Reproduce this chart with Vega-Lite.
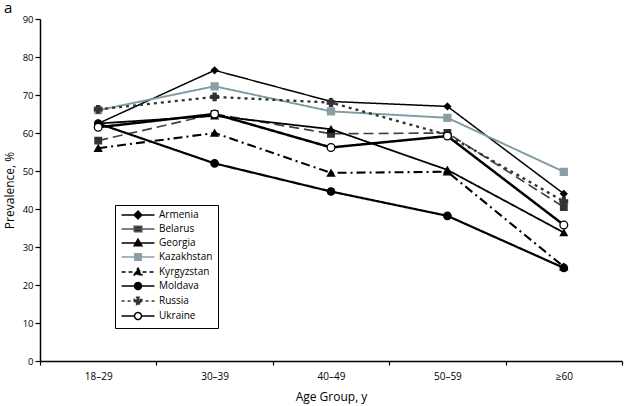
{
  "$schema": "https://vega.github.io/schema/vega-lite/v6.json",
  "width": 582,
  "height": 342,
  "autosize": "none",
  "padding": {"left": 40, "top": 19, "right": 18, "bottom": 45},
  "background": "white",
  "title": {"text": "a", "anchor": "start", "frame": "group", "dx": -36, "dy": 3, "offset": 1, "fontSize": 15, "fontWeight": "normal", "font": "Open Sans", "color": "black"},
  "config": {
    "font": "Open Sans",
    "view": {"stroke": null},
    "axis": {"grid": false, "domainColor": "black", "tickColor": "black", "labelColor": "black", "titleColor": "black", "titleFontWeight": "normal", "labelFont": "Open Sans", "titleFont": "Open Sans"}
  },
  "data": {"values": [
    {"country": "Armenia", "age": "18–29", "value": 62.5},
    {"country": "Armenia", "age": "30–39", "value": 76.5},
    {"country": "Armenia", "age": "40–49", "value": 68.3},
    {"country": "Armenia", "age": "50–59", "value": 67.0},
    {"country": "Armenia", "age": "≥60", "value": 44.0},
    {"country": "Belarus", "age": "18–29", "value": 58.0},
    {"country": "Belarus", "age": "30–39", "value": 65.0},
    {"country": "Belarus", "age": "40–49", "value": 59.8},
    {"country": "Belarus", "age": "50–59", "value": 60.0},
    {"country": "Belarus", "age": "≥60", "value": 40.5},
    {"country": "Georgia", "age": "18–29", "value": 62.5},
    {"country": "Georgia", "age": "30–39", "value": 64.5},
    {"country": "Georgia", "age": "40–49", "value": 61.0},
    {"country": "Georgia", "age": "50–59", "value": 50.3},
    {"country": "Georgia", "age": "≥60", "value": 33.8},
    {"country": "Kazakhstan", "age": "18–29", "value": 66.0},
    {"country": "Kazakhstan", "age": "30–39", "value": 72.3},
    {"country": "Kazakhstan", "age": "40–49", "value": 65.7},
    {"country": "Kazakhstan", "age": "50–59", "value": 64.0},
    {"country": "Kazakhstan", "age": "≥60", "value": 49.8},
    {"country": "Kyrgyzstan", "age": "18–29", "value": 56.0},
    {"country": "Kyrgyzstan", "age": "30–39", "value": 60.0},
    {"country": "Kyrgyzstan", "age": "40–49", "value": 49.5},
    {"country": "Kyrgyzstan", "age": "50–59", "value": 49.8},
    {"country": "Kyrgyzstan", "age": "≥60", "value": 24.8},
    {"country": "Moldava", "age": "18–29", "value": 62.5},
    {"country": "Moldava", "age": "30–39", "value": 52.0},
    {"country": "Moldava", "age": "40–49", "value": 44.6},
    {"country": "Moldava", "age": "50–59", "value": 38.2},
    {"country": "Moldava", "age": "≥60", "value": 24.5},
    {"country": "Russia", "age": "18–29", "value": 66.2},
    {"country": "Russia", "age": "30–39", "value": 69.5},
    {"country": "Russia", "age": "40–49", "value": 68.0},
    {"country": "Russia", "age": "50–59", "value": 59.5},
    {"country": "Russia", "age": "≥60", "value": 42.0},
    {"country": "Ukraine", "age": "18–29", "value": 61.5},
    {"country": "Ukraine", "age": "30–39", "value": 65.0},
    {"country": "Ukraine", "age": "40–49", "value": 56.2},
    {"country": "Ukraine", "age": "50–59", "value": 59.2},
    {"country": "Ukraine", "age": "≥60", "value": 35.8}
  ]},
  "encoding": {
    "x": {"field": "age", "type": "ordinal", "sort": ["18–29", "30–39", "40–49", "50–59", "≥60"],
      "scale": {"type": "band", "paddingInner": 0, "paddingOuter": 0},
      "axis": {"title": "Age Group, y", "labelAngle": 0, "tickBand": "extent", "tickSize": 4, "labelFontSize": 10, "labelPadding": 6, "titleFontSize": 12, "titlePadding": 10, "domainWidth": 1.5, "tickWidth": 1.2}},
    "y": {"field": "value", "type": "quantitative",
      "scale": {"domain": [0, 90], "nice": false},
      "axis": {"title": "Prevalence, %", "values": [0, 10, 20, 30, 40, 50, 60, 70, 80, 90], "tickSize": 5, "labelFontSize": 9.5, "labelPadding": 2, "titleFontSize": 12, "titlePadding": 6, "domainWidth": 1.5, "tickWidth": 1.2}}
  },
  "resolve": {"scale": {"shape": "independent", "fill": "independent", "stroke": "independent", "strokeDash": "independent", "size": "independent"}},
  "layer": [
    {
      "mark": {"type": "line"},
      "encoding": {
        "color": {"field": "country", "type": "nominal",
          "scale": {"domain": ["Armenia", "Belarus", "Georgia", "Kazakhstan", "Kyrgyzstan", "Moldava", "Russia", "Ukraine"],
            "range": ["#000000", "#404040", "#000000", "#7f9ca4", "#000000", "#000000", "#333333", "#000000"]},
          "legend": null},
        "strokeDash": {"field": "country", "type": "nominal",
          "scale": {"domain": ["Armenia", "Belarus", "Georgia", "Kazakhstan", "Kyrgyzstan", "Moldava", "Russia", "Ukraine"],
            "range": [[1, 0], [10, 5], [1, 0], [1, 0], [9, 4, 2, 4], [1, 0], [3, 4], [1, 0]]},
          "legend": null},
        "strokeWidth": {"field": "country", "type": "nominal",
          "scale": {"domain": ["Armenia", "Belarus", "Georgia", "Kazakhstan", "Kyrgyzstan", "Moldava", "Russia", "Ukraine"],
            "range": [1.5, 2.5, 1.5, 1.5, 1.8, 1.5, 2, 1.5]},
          "legend": null}
      }
    },
    {
      "mark": {"type": "point", "opacity": 1, "strokeWidth": 1.3},
      "encoding": {
        "shape": {"field": "country", "type": "nominal",
          "scale": {"domain": ["Armenia", "Belarus", "Georgia", "Kazakhstan", "Kyrgyzstan", "Moldava", "Russia", "Ukraine"],
            "range": ["diamond", "square", "triangle-up", "square", "triangle-up", "circle", "cross", "circle"]},
          "legend": null},
        "fill": {"field": "country", "type": "nominal",
          "scale": {"domain": ["Armenia", "Belarus", "Georgia", "Kazakhstan", "Kyrgyzstan", "Moldava", "Russia", "Ukraine"],
            "range": ["#000000", "#333333", "#000000", "#8a9ea4", "#000000", "#000000", "#333333", "#ffffff"]},
          "legend": null},
        "stroke": {"field": "country", "type": "nominal",
          "scale": {"domain": ["Armenia", "Belarus", "Georgia", "Kazakhstan", "Kyrgyzstan", "Moldava", "Russia", "Ukraine"],
            "range": ["#000000", "#333333", "#000000", "#8a9ea4", "#000000", "#000000", "#333333", "#000000"]},
          "legend": null},
        "size": {"field": "country", "type": "nominal",
          "scale": {"domain": ["Armenia", "Belarus", "Georgia", "Kazakhstan", "Kyrgyzstan", "Moldava", "Russia", "Ukraine"],
            "range": [40, 60, 45, 50, 45, 45, 55, 40]},
          "legend": null}
      }
    },
    {
      "mark": {"type": "point", "opacity": 0, "size": 49, "strokeWidth": 1.5},
      "encoding": {
        "shape": {"field": "country", "type": "nominal",
          "scale": {"domain": ["Armenia", "Belarus", "Georgia", "Kazakhstan", "Kyrgyzstan", "Moldava", "Russia", "Ukraine"],
            "range": [
              "M-4.7,0L4.7,0M0,-1.1L1.1,0L0,1.1L-1.1,0Z",
              "M-4.7,0L4.7,0M-1.1,-0.8L1.1,-0.8L1.1,0.8L-1.1,0.8Z",
              "M-4.7,0L4.7,0M0,-1.1L1.1,0.8L-1.1,0.8Z",
              "M-4.7,0L4.7,0M-0.9,-0.9L0.9,-0.9L0.9,0.9L-0.9,0.9Z",
              "M-4.7,0L4.7,0M0,-1.1L1.1,0.8L-1.1,0.8Z",
              "M-4.7,0L4.7,0M-1,0A1,1,0,1,0,1,0A1,1,0,1,0,-1,0Z",
              "M-4.7,0L4.7,0M-0.4,-1.1L0.4,-1.1L0.4,-0.4L1.1,-0.4L1.1,0.4L0.4,0.4L0.4,1.1L-0.4,1.1L-0.4,0.4L-1.1,0.4L-1.1,-0.4L-0.4,-0.4Z",
              "M-4.7,0L-1,0M1,0L4.7,0M-1,0A1,1,0,1,0,1,0A1,1,0,1,0,-1,0Z"
            ]},
          "legend": {
            "title": null, "orient": "none", "legendX": 75, "legendY": 186,
            "strokeColor": "black", "padding": 5, "rowPadding": 1,
            "symbolSize": 49, "symbolStrokeWidth": 1.5, "symbolOpacity": 1, "symbolOffset": 13, "labelOffset": 16,
            "labelFontSize": 10, "labelColor": "black", "labelFont": "Open Sans"
          }},
        "fill": {"field": "country", "type": "nominal",
          "scale": {"domain": ["Armenia", "Belarus", "Georgia", "Kazakhstan", "Kyrgyzstan", "Moldava", "Russia", "Ukraine"],
            "range": ["#000000", "#222222", "#000000", "#8a9ea4", "#000000", "#000000", "#333333", "#ffffff"]}},
        "stroke": {"field": "country", "type": "nominal",
          "scale": {"domain": ["Armenia", "Belarus", "Georgia", "Kazakhstan", "Kyrgyzstan", "Moldava", "Russia", "Ukraine"],
            "range": ["#000000", "#555555", "#000000", "#8a9ea4", "#000000", "#000000", "#333333", "#000000"]}},
        "strokeDash": {"field": "country", "type": "nominal",
          "scale": {"domain": ["Armenia", "Belarus", "Georgia", "Kazakhstan", "Kyrgyzstan", "Moldava", "Russia", "Ukraine"],
            "range": [[1, 0], [1, 0], [1, 0], [1, 0], [4, 3], [1, 0], [3, 3], [1, 0]]}}
      }
    }
  ]
}
